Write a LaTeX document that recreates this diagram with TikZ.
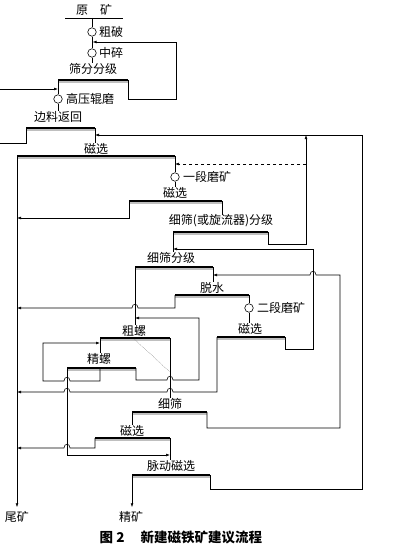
\documentclass[tikz,border=0pt]{standalone}
\usepackage{fontspec}
\setmainfont{Noto Sans CJK SC}
\usetikzlibrary{arrows.meta}
\begin{document}
\begin{tikzpicture}[x=1pt,y=-1pt,
  lbl/.style={inner sep=0pt, font=\fontsize{12}{12}\selectfont},
  mill/.style={circle, draw, line width=0.6pt, minimum size=8.5pt, inner sep=0pt},
  ln/.style={line width=0.55pt},
  arr/.style={ln, -{Latex[length=4pt,width=2.8pt]}},
  bar/.style={line width=1.1pt, preaction={draw=gray!50, line width=1.8pt, transform canvas={yshift=-1.7pt}}},
  mid/.style={line width=0.3pt, densely dotted}]
\useasboundingbox (0,0) rectangle (400,551);
\node[lbl] (feed) at (94,10){原\hspace{1em}矿};
\coordinate (feedl) at (65,18);
\coordinate (feedr) at (123,18);
\coordinate (feedm) at (92,18);
\draw[ln](feedl) -- (feedr);
\node[mill] (cr1) at (92,32){};
\node[lbl, anchor=west] (cr1t) at (99,32){粗破};
\node[mill] (cr2) at (92,53){};
\node[lbl, anchor=west] (cr2t) at (99,53){中碎};
\draw[ln](feedm) -- (cr1);
\draw[ln](cr1) -- (cr2);
\node[lbl] (sc1) at (93,69){筛分分级};
\draw[ln](cr2) -- (cr2 |- sc1.north);
\coordinate (sc1l) at (58,80);
\coordinate (sc1r) at (128,80);
\draw[bar](sc1l) -- (sc1r);
\coordinate (ret1) at (92.5,42);
\draw[arr](sc1r) -- (128,99) -| (176,42) -- (ret1);
\node[mill] (hp) at (58,99){};
\node[lbl, anchor=west] (hpt) at (66,99){高压辊磨};
\draw[ln](sc1l) -- (hp);
\coordinate (in1) at (0,89);
\draw[arr](in1) -- (hp |- in1);
\node[lbl] (sc2) at (58,117){边料返回};
\draw[ln](hp) -- (hp |- sc2.north);
\coordinate (sc2l) at (26,128);
\coordinate (sc2r) at (95,128);
\draw[bar](sc2l) -- (sc2r);
\coordinate (out1) at (0,143);
\draw[ln](sc2l) |- (out1);
\node[lbl] (ms1) at (96,149){磁选};
\draw[ln](sc2r) -- (sc2r |- ms1.north);
\coordinate (ms1l) at (17,156);
\coordinate (ms1r) at (175,156);
\draw[bar](ms1l) -- (ms1r);
\node[lbl] (tail) at (17,517){尾矿};
\draw[arr, shorten >=4pt](ms1l) -- (tail.north);
\node[mill] (gm1) at (175,177){};
\node[lbl, anchor=west] (gm1t) at (183,177){一段磨矿};
\draw[ln](ms1r) -- (gm1);
\node[lbl] (ms2) at (175,193){磁选};
\draw[ln](gm1) -- (gm1 |- ms2.north);
\coordinate (ms2l) at (129,201);
\coordinate (ms2r) at (222,201);
\draw[bar](ms2l) -- (ms2r);
\coordinate (t1) at (17,218);
\draw[arr](ms2l) |- (t1);
\node[lbl] (fs1) at (221,221){细筛(或旋流器)分级};
\draw[ln](ms2r) -- (ms2r |- fs1.north);
\coordinate (fs1l) at (173,232);
\coordinate (fs1r) at (268,232);
\draw[bar](fs1l) -- (fs1r);
\coordinate (r0) at (95,135);
\coordinate (r1) at (306,135);
\coordinate (r2) at (362,135);
\draw[arr](fs1r) -- (268,244) -| (r1);
\draw[arr](r2) -- (r0);
\coordinate (d1) at (306,164);
\draw[arr, dashed](d1) -- (gm1 |- d1);
\node[lbl] (fs2) at (171,258){细筛分级};
\draw[ln](fs1l) -- (fs1l |- fs2.north);
\coordinate (fs2l) at (135,267);
\coordinate (fs2r) at (213,267);
\draw[bar](fs2l) -- (fs2r);
\node[lbl] (dw) at (212,288){脱水};
\draw[ln](fs2r) -- (fs2r |- dw.north);
\coordinate (dwl) at (175,295);
\coordinate (dwr) at (249,295);
\draw[bar](dwl) -- (dwr);
\coordinate (t2) at (17,308);
\draw[arr](dwl) -- (175,308) -- (138,308) .. controls (138,303) and (132,303) .. (132,308) -- (t2);
\node[mill] (gm2) at (249,308){};
\node[lbl, anchor=west] (gm2t) at (257,308){二段磨矿};
\draw[ln](dwr) -- (gm2);
\node[lbl] (ms3) at (250,329){磁选};
\draw[ln](gm2) -- (gm2 |- ms3.north);
\coordinate (ms3l) at (217,337);
\coordinate (ms3r) at (285,337);
\draw[bar](ms3l) -- (ms3r);
\coordinate (fs1in) at (173,249);
\draw[arr](ms3r) -- (285,349) -| (313,249) -- (fs1in);
\node[lbl] (sp1) at (134,331){粗螺};
\draw[ln](fs2l) -- (fs2l |- sp1.north);
\coordinate (sp1l) at (100,338);
\coordinate (sp1m) at (133,338);
\coordinate (sp1r) at (170,338);
\coordinate (sp1d) at (170,372);
\draw[bar](sp1l) -- (sp1r);
\draw[mid](sp1m) -- (sp1d);
\node[lbl] (sp2) at (99,359){精螺};
\draw[ln](sp1l) -- (sp1l |- sp2.north);
\coordinate (sp2l) at (67,368);
\coordinate (sp2m) at (100,368);
\coordinate (sp2r) at (136,368);
\draw[bar](sp2l) -- (sp2r);
\coordinate (sp2in) at (100,343);
\draw[arr](sp2m) -- (100,381) -- (70,381) .. controls (70,376) and (64,376) .. (64,381) -- (43,381) |- (sp2in);
\coordinate (sp1in) at (135,318);
\draw[arr](sp2r) -- (136,380) -- (167,380) .. controls (167,375) and (173,375) .. (173,380) -- (199,380) |- (sp1in);
\coordinate (t3) at (17,392);
\draw[arr](ms3l) -- (217,392) -- (173,392) .. controls (173,387) and (167,387) .. (167,392) -- (70,392) .. controls (70,387) and (64,387) .. (64,392) -- (t3);
\node[lbl] (fs3) at (170,404){细筛};
\draw[ln](sp1r) -- (sp1r |- fs3.north);
\coordinate (fs3l) at (132,412);
\coordinate (fs3r) at (207,412);
\draw[bar](fs3l) -- (fs3r);
\coordinate (dwin) at (213,275);
\draw[arr](fs3r) -- (207,428) -| (340,275) -- (316,275) .. controls (316,270) and (310,270) .. (310,275) -- (dwin);
\node[lbl] (ms4) at (132,431){磁选};
\draw[ln](fs3l) -- (fs3l |- ms4.north);
\coordinate (ms4l) at (95,438);
\coordinate (ms4r) at (170,438);
\draw[bar](ms4l) -- (ms4r);
\coordinate (t4) at (17,448);
\draw[arr](ms4l) -- (95,448) -- (70,448) .. controls (70,443) and (64,443) .. (64,448) -- (t4);
\node[lbl] (pm) at (171,466){脉动磁选};
\draw[ln](ms4r) -- (ms4r |- pm.north);
\coordinate (pmin) at (170,455);
\draw[arr](sp2l) |- (pmin);
\coordinate (pml) at (132,475);
\coordinate (pmr) at (210,475);
\draw[bar](pml) -- (pmr);
\node[lbl] (conc) at (131,517){精矿};
\draw[arr, shorten >=4pt](pml) -- (pml |- conc.north);
\draw[ln](pmr) -- (210,489) -| (r2);
\node[inner sep=0pt, font=\fontsize{13.5}{14}\selectfont\bfseries] (cap) at (181,537){图 2\hspace{1.2em}新建磁铁矿建议流程};
\end{tikzpicture}
\end{document}
